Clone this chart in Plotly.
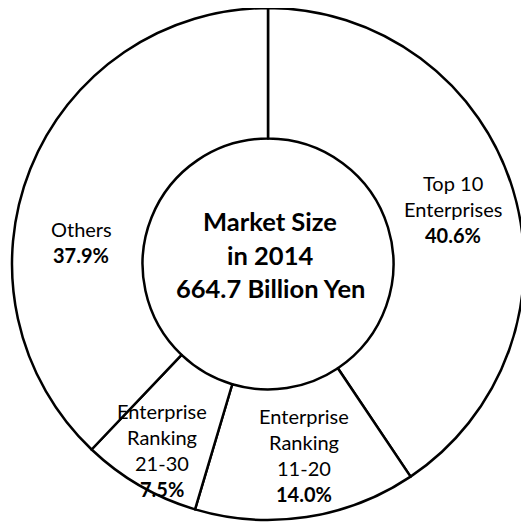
import plotly.graph_objects as go

# Data
categories = ["Top 10 Enterprises", "Enterprise Ranking 11-20", "Enterprise Ranking 21-30", "Others"]
shares = [40.6, 14.0, 7.5, 37.9]
label_lines = [["Top 10", "Enterprises"], ["Enterprise", "Ranking", "11-20"],
               ["Enterprise", "Ranking", "21-30"], ["Others"]]
center_lines = ["Market Size", "in 2014", "664.7 Billion Yen"]

OFF = 8  # page body margin
W, H = 529 - OFF, 530 - OFF
ml, mt = 12 - OFF, 8 - OFF
side = 512
mr, mb = W - ml - side, H - mt - side

fig = go.Figure(go.Pie(
    labels=categories, values=shares, sort=False, direction="clockwise",
    rotation=0, hole=0.49, textinfo="none", hoverinfo="label+percent",
    marker=dict(colors=["white"] * 4, line=dict(color="black", width=2.5)),
    showlegend=False,
))

FONT = "Lato"
# label anchor (center x, first line y) in page pixels
label_pos = [(453, 183), (304, 416), (162, 411), (81, 229)]
line_h = 26

def px_to_paper(x, y):
    x -= OFF
    y -= OFF
    return (x - ml) / (W - ml - mr), 1 - (y - mt) / (H - mt - mb)

ann = []
for lines, val, (cx, cy) in zip(label_lines, shares, label_pos):
    all_lines = [(t, False) for t in lines] + [(f"{val:.1f}%", True)]
    for i, (t, bold) in enumerate(all_lines):
        px, py = px_to_paper(cx, cy + i * line_h)
        ann.append(dict(x=px, y=py, xref="paper", yref="paper", showarrow=False,
                        text=f"<b>{t}</b>" if bold else t,
                        font=dict(family=FONT, size=20, color="black"),
                        xanchor="center", yanchor="middle"))

center_y = [221, 255, 288]
for t, cy in zip(center_lines, center_y):
    px, py = px_to_paper(270, cy)
    ann.append(dict(x=px, y=py, xref="paper", yref="paper", showarrow=False,
                    text=f"<b>{t}</b>", font=dict(family=FONT, size=25.5, color="black"),
                    xanchor="center", yanchor="middle"))

fig.update_layout(
    width=W, height=H, margin=dict(l=ml, r=mr, t=mt, b=mb, pad=0),
    paper_bgcolor="white", plot_bgcolor="white", annotations=ann,
)
fig.write_html("out.html")
